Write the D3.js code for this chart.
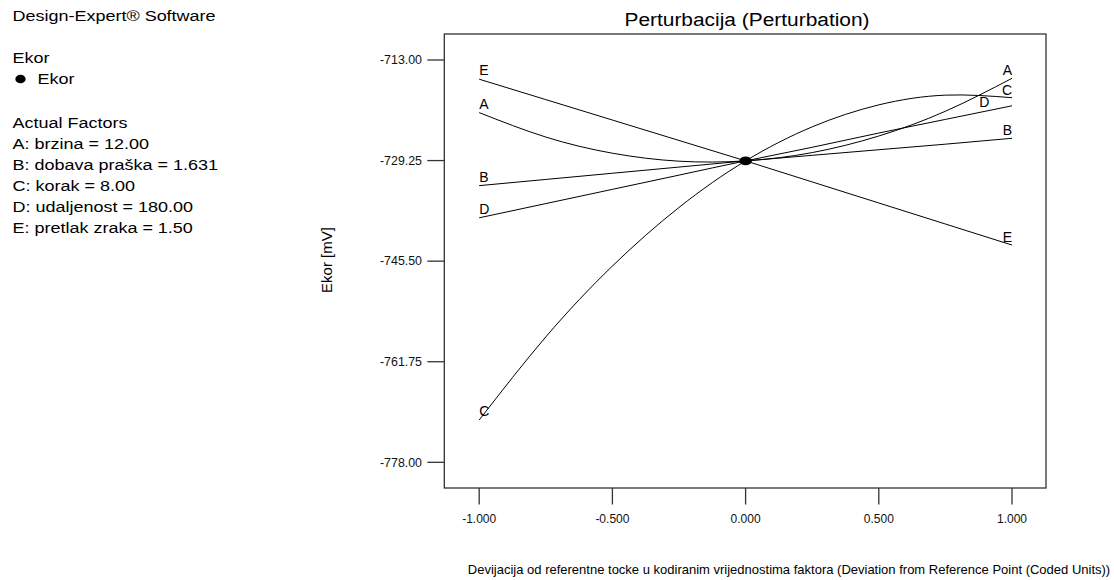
<!DOCTYPE html>
<html>
<head>
<meta charset="utf-8">
<script src="https://cdn.jsdelivr.net/npm/d3@7"></script>
<style>
  html, body { margin: 0; padding: 0; background: #fff; }
  svg { display: block; font-family: "Liberation Sans", Arial, sans-serif; }
</style>
</head>
<body>
<svg id="chart" width="1114" height="580"></svg>
<script>
// ---- data ----
const deviations = [-1, -0.75, -0.5, -0.25, 0, 0.25, 0.5, 0.75, 1];
const factorNames = ["A", "B", "C", "D", "E"];
const seriesA = [-721.5, -725.45, -728.06, -729.35, -729.3, -727.96, -725.28, -721.28, -715.96];
const seriesB = [-733.3, -732.3, -731.3, -730.3, -729.3, -728.4, -727.5, -726.6, -725.65];
const seriesC = [-771.17, -757.74, -746.29, -736.82, -729.3, -723.8, -720.25, -718.68, -719.09];
const seriesD = [-738.5, -736.2, -733.9, -731.6, -729.3, -727.1, -724.8, -722.6, -720.4];
const seriesE = [-716.1, -719.4, -722.7, -726.0, -729.3, -732.7, -736.1, -739.5, -742.9];
const yTicks = [-713.00, -729.25, -745.50, -761.75, -778.00];
const xTicks = [-1, -0.5, 0, 0.5, 1];
const refPoint = { x: 0, y: -729.3 };
const infoLines = [
  "Design-Expert® Software", "", "Ekor", "\u25CF Ekor", "", "Actual Factors",
  "A: brzina  = 12.00", "B: dobava praška = 1.631", "C: korak = 8.00",
  "D: udaljenost = 180.00", "E: pretlak zraka = 1.50"
];
const titleText = "Perturbacija (Perturbation)";
const yLabel = "Ekor [mV]";
const xLabel = "Devijacija od referentne tocke u kodiranim vrijednostima faktora (Deviation from Reference Point (Coded Units))";

// ---- layout ----
const frame = { left: 444.3, top: 34, right: 1046, bottom: 488 };
const svg = d3.select("#chart");
const x = d3.scaleLinear().domain([-1, 1]).range([479.2, 1012]);
const y = d3.scaleLinear().domain([-778, -713]).range([462.3, 60]);
const hy = s => s.replace("\u2212", "-");

const seriesValues = { A: seriesA, B: seriesB, C: seriesC, D: seriesD, E: seriesE };
// label placement config: left labels at x=-1, right labels at the given x
const labelRight = { A: 1, B: 1, C: 1, D: 0.915, E: 1 };

// frame
svg.append("rect")
  .attr("x", frame.left).attr("y", frame.top)
  .attr("width", frame.right - frame.left).attr("height", frame.bottom - frame.top)
  .attr("fill", "none").attr("stroke", "#333").attr("stroke-width", 1.3);

// y axis
const yAxis = svg.append("g");
yTicks.forEach(t => {
  yAxis.append("line").attr("x1", 427.3).attr("x2", frame.left)
    .attr("y1", y(t)).attr("y2", y(t)).attr("stroke", "#333").attr("stroke-width", 1.3);
  yAxis.append("text").attr("x", 422).attr("y", y(t)).attr("dy", "0.35em")
    .attr("text-anchor", "end").attr("font-size", 12.4).attr("fill", "#111")
    .text(hy(d3.format(".2f")(t)));
});

// x axis
const xAxis = svg.append("g");
xTicks.forEach(t => {
  xAxis.append("line").attr("x1", x(t)).attr("x2", x(t))
    .attr("y1", frame.bottom).attr("y2", 504.5).attr("stroke", "#333").attr("stroke-width", 1.3);
  xAxis.append("text").attr("x", x(t)).attr("y", 523)
    .attr("text-anchor", "middle").attr("font-size", 12).attr("fill", "#111")
    .text(hy(d3.format(".3f")(t)));
});

// lines
const line = d3.line().x(d => x(d[0])).y(d => y(d[1])).curve(d3.curveNatural);
const interp = (vals, xv) => {
  for (let i = 0; i < deviations.length - 1; i++) {
    if (xv >= deviations[i] && xv <= deviations[i + 1]) {
      const t = (xv - deviations[i]) / (deviations[i + 1] - deviations[i]);
      return vals[i] + t * (vals[i + 1] - vals[i]);
    }
  }
  return vals[vals.length - 1];
};
factorNames.forEach(name => {
  const vals = seriesValues[name];
  const pts = deviations.map((d, i) => [d, vals[i]]);
  svg.append("path").attr("d", line(pts)).attr("fill", "none")
    .attr("stroke", "#000").attr("stroke-width", 1);
  svg.append("text").attr("x", x(-1)).attr("y", y(vals[0]) - 4)
    .attr("font-size", 14).attr("fill", "#000").text(name);
  const xr = labelRight[name];
  svg.append("text").attr("x", x(xr)).attr("y", y(interp(vals, xr)) - 3)
    .attr("text-anchor", "end").attr("font-size", 14).attr("fill", "#000").text(name);
});

// reference point
svg.append("ellipse").attr("cx", x(refPoint.x)).attr("cy", y(refPoint.y))
  .attr("rx", 6.3).attr("ry", 4.4).attr("fill", "#000");

// title (horizontally stretched like the reference)
svg.append("text").attr("transform", "translate(747,26) scale(1.1,1)")
  .attr("text-anchor", "middle").attr("font-size", 19).attr("fill", "#000").text(titleText);

// axis labels
svg.append("text").attr("transform", "translate(332,260) rotate(-90)")
  .attr("text-anchor", "middle").attr("font-size", 15).attr("fill", "#000").text(yLabel);
svg.append("text").attr("x", 789).attr("y", 574).attr("text-anchor", "middle")
  .attr("font-size", 13).attr("fill", "#000").text(xLabel);

// info panel (horizontally stretched like the reference)
const sx = 1.2;
const info = svg.append("g").attr("transform", `scale(${sx},1)`);
const infoY = [21, null, 63, 84, null, 128, 149, 170, 191, 212, 233];
infoLines.forEach((s, i) => {
  if (!s) return;
  if (s.startsWith("\u25CF")) {
    info.append("circle").attr("cx", 20.5 / sx).attr("cy", infoY[i] - 5).attr("r", 4.3).attr("fill", "#000");
    info.append("text").attr("x", 37.5 / sx).attr("y", infoY[i]).attr("font-size", 15).attr("fill", "#000")
      .text(s.slice(2));
  } else {
    info.append("text").attr("x", 12.5 / sx).attr("y", infoY[i]).attr("font-size", 15).attr("fill", "#000").text(s);
  }
});
</script>
</body>
</html>
